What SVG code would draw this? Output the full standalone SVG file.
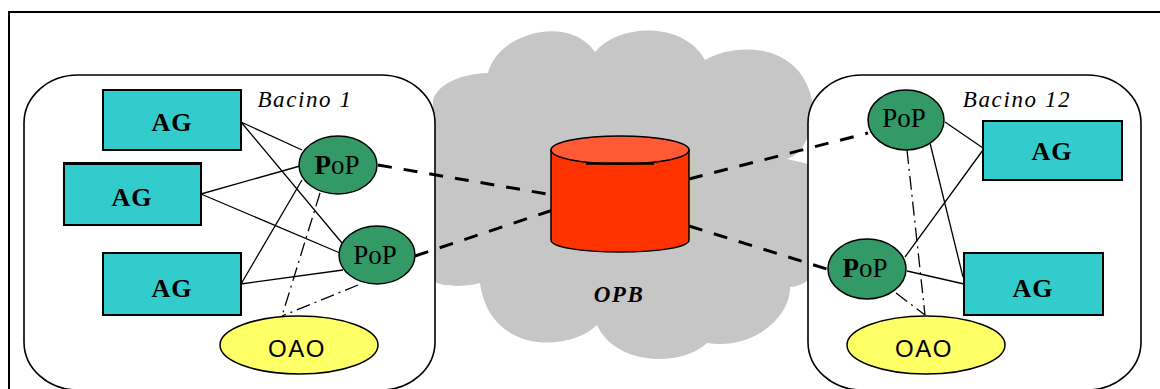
<svg xmlns="http://www.w3.org/2000/svg" width="1160" height="389" viewBox="0 0 1160 389">
<style>
.ag{fill:#33cccc;stroke:#000;stroke-width:2}
.pop{fill:#339966;stroke:#000;stroke-width:1.5}
.oao{fill:#ffff66;stroke:#000;stroke-width:1.5}
.basin{fill:#fff;stroke:#000;stroke-width:1.6}
.thin{fill:none;stroke:#000;stroke-width:1.3}
.dd{fill:none;stroke:#000;stroke-width:1.3;stroke-dasharray:14 5 2 5}
.thick{fill:none;stroke:#000;stroke-width:3;stroke-dasharray:14 12}
text{fill:#000;text-anchor:middle}
.t-ag{font:bold 26px "Liberation Serif",serif;letter-spacing:1px}
.t-pop{font:27px "Liberation Serif",serif}
.t-oao{font:24px "Liberation Sans",sans-serif;letter-spacing:1.500px}
.t-b{font:italic 23px "Liberation Serif",serif;letter-spacing:1.600px}
.t-opb{font:italic bold 23px "Liberation Serif",serif;letter-spacing:1.500px}
</style>
<rect width="1160" height="389" fill="#fff"/>
<path d="M9 389V12H1160" fill="none" stroke="#000" stroke-width="2"/>
<g id="cloud">
<path fill="#c6c6c6" d="M433 100C438 84 460 74 488 73C498 32 570 14 595 52C620 22 685 22 705 60C735 42 800 42 812 100C815 118 812 130 808 137C802 150 795 156 787 159L808 164V280C803 284 796 287 790 287C790 320 750 350 707 343C680 368 615 365 597 325C570 352 490 355 480 283C465 287 445 287 435 282Z"/>
<rect x="689" y="160" width="6" height="80" fill="#c8c8b8"/>
</g>
<g id="basin-1"><rect class="basin" x="24" y="75" width="411" height="315" rx="54" ry="48"/></g>
<g id="basin-12"><rect class="basin" x="808" y="75" width="333" height="315" rx="54" ry="48"/></g>
<g id="connectors">
<path class="thin" d="M241 122L302 150M241 122L342 243M201 194L300 166M201 194L340 253M241 284L302 180M241 284L343 270"/>
<path class="dd" d="M320 193L282 316M358 285L282 316"/>
<path class="thick" d="M378 165L553 195M415 256L553 210M689 179L868 133M689 226L830 270"/>
<path class="thin" d="M945 122L983 148M930 143L963 277M983 150L905 257M907 271L964 284"/>
<path class="dd" d="M907 150L925 315M896 293L925 315"/>
</g>
<g id="ag-1"><rect class="ag" x="103" y="90" width="138" height="60"/><text class="t-ag" x="172" y="131">AG</text></g>
<g id="ag-2"><rect class="ag" x="64" y="164" width="137" height="61"/><path d="M63 163.500H202" stroke="#000" stroke-width="3"/><text class="t-ag" x="132" y="206">AG</text></g>
<g id="ag-3"><rect class="ag" x="103" y="253" width="138" height="62"/><text class="t-ag" x="172" y="297">AG</text></g>
<g id="ag-4"><rect class="ag" x="983" y="121" width="139" height="59"/><text class="t-ag" x="1052" y="160">AG</text></g>
<g id="ag-5"><rect class="ag" x="964" y="253" width="139" height="62"/><text class="t-ag" x="1033" y="297">AG</text></g>
<g id="pop-1"><ellipse class="pop" cx="338" cy="165" rx="39" ry="29"/><text class="t-pop" x="337" y="174"><tspan font-weight="bold">P</tspan>oP</text></g>
<g id="pop-2"><ellipse class="pop" cx="377" cy="255" rx="38" ry="29"/><text class="t-pop" x="375" y="264">PoP</text></g>
<g id="pop-3"><ellipse class="pop" cx="906" cy="120" rx="38" ry="30"/><text class="t-pop" x="904" y="127">PoP</text></g>
<g id="pop-4"><ellipse class="pop" cx="867" cy="269" rx="39" ry="30"/><text class="t-pop" x="865" y="277"><tspan font-weight="bold">P</tspan>oP</text></g>
<g id="oao-1"><ellipse class="oao" cx="299" cy="345" rx="79" ry="29"/><text class="t-oao" x="297" y="357">OAO</text></g>
<g id="oao-2"><ellipse class="oao" cx="926" cy="345" rx="79" ry="29"/><text class="t-oao" x="924" y="357">OAO</text></g>
<g id="opb">
<path d="M551 150V240C551 247 580 252 620 252S689 247 689 240V150Z" fill="#ff3300" stroke="#000" stroke-width="1.5"/>
<ellipse cx="620" cy="150" rx="69" ry="14" fill="#ff5a33" stroke="#000" stroke-width="1.5"/>
<path d="M586 163.500H654" stroke="#000" stroke-width="2.500"/>
<text class="t-opb" x="619" y="302">OPB</text>
</g>
<text class="t-b" x="305" y="107">Bacino 1</text>
<text class="t-b" x="1017" y="107">Bacino 12</text>
</svg>
